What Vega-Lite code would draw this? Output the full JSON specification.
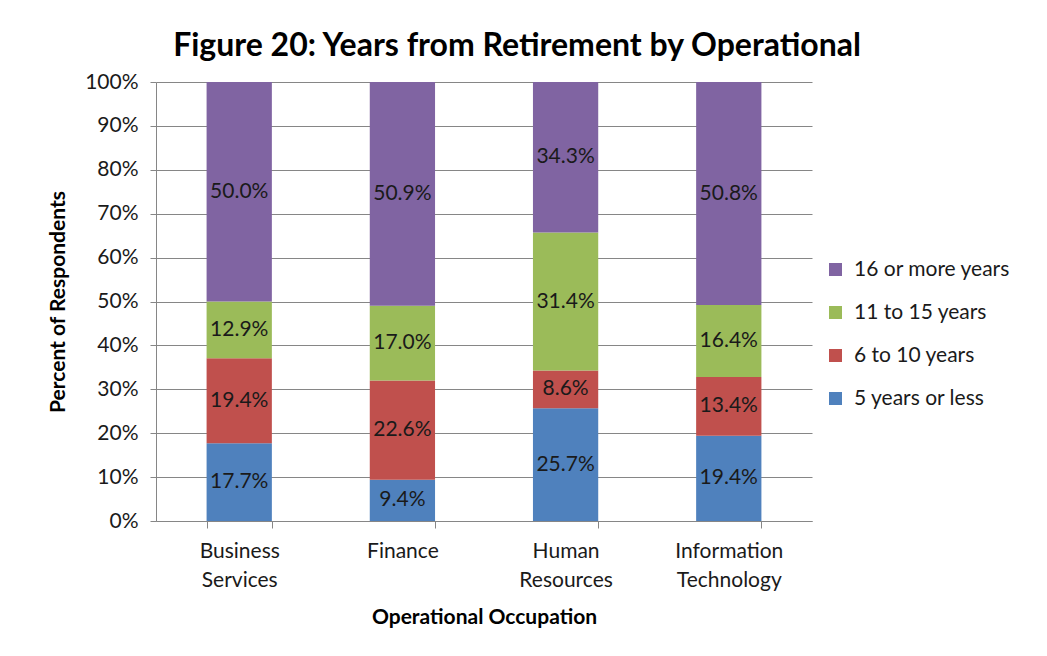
{
  "$schema": "https://vega.github.io/schema/vega-lite/v6.json",
  "autosize": {"type": "none"},
  "padding": {"left": 156, "top": 82, "right": 235, "bottom": 135},
  "width": 656,
  "height": 439,
  "background": "white",
  "title": {
    "text": "Figure 20: Years from Retirement by Operational",
    "font": "Lato",
    "fontSize": 32,
    "fontWeight": "bold",
    "color": "#000000",
    "anchor": "middle",
    "frame": "group",
    "dx": 33,
    "offset": 8
  },
  "data": {
    "values": [
      {"occ": "Business Services", "cat": "5 years or less", "rank": 1, "p": 0.177},
      {"occ": "Business Services", "cat": "6 to 10 years", "rank": 2, "p": 0.194},
      {"occ": "Business Services", "cat": "11 to 15 years", "rank": 3, "p": 0.129},
      {"occ": "Business Services", "cat": "16 or more years", "rank": 4, "p": 0.500},
      {"occ": "Finance", "cat": "5 years or less", "rank": 1, "p": 0.094},
      {"occ": "Finance", "cat": "6 to 10 years", "rank": 2, "p": 0.226},
      {"occ": "Finance", "cat": "11 to 15 years", "rank": 3, "p": 0.170},
      {"occ": "Finance", "cat": "16 or more years", "rank": 4, "p": 0.509},
      {"occ": "Human Resources", "cat": "5 years or less", "rank": 1, "p": 0.257},
      {"occ": "Human Resources", "cat": "6 to 10 years", "rank": 2, "p": 0.086},
      {"occ": "Human Resources", "cat": "11 to 15 years", "rank": 3, "p": 0.314},
      {"occ": "Human Resources", "cat": "16 or more years", "rank": 4, "p": 0.343},
      {"occ": "Information Technology", "cat": "5 years or less", "rank": 1, "p": 0.194},
      {"occ": "Information Technology", "cat": "6 to 10 years", "rank": 2, "p": 0.134},
      {"occ": "Information Technology", "cat": "11 to 15 years", "rank": 3, "p": 0.164},
      {"occ": "Information Technology", "cat": "16 or more years", "rank": 4, "p": 0.508}
    ]
  },
  "encoding": {
    "x": {
      "field": "occ",
      "type": "nominal",
      "sort": null,
      "scale": {"paddingInner": 0.6, "paddingOuter": 0.31},
      "axis": {
        "title": "Operational Occupation",
        "titleFont": "Lato",
        "titleFontSize": 21,
        "titleFontWeight": "bold",
        "titleColor": "#000000",
        "titlePadding": 16,
        "labelAngle": 0,
        "labelExpr": "split(datum.label, ' ')",
        "labelFont": "Lato",
        "labelFontSize": 21,
        "labelColor": "#1a1a1a",
        "labelLineHeight": 29,
        "labelPadding": 12,
        "tickBand": "extent",
        "tickSize": 7,
        "tickColor": "#868686",
        "domainColor": "#868686",
        "grid": false
      }
    },
    "y": {
      "field": "p",
      "type": "quantitative",
      "stack": "normalize",
      "scale": {"domain": [0, 1]},
      "axis": {
        "title": "Percent of Respondents",
        "titleFont": "Lato",
        "titleFontSize": 21,
        "titleFontWeight": "bold",
        "titleColor": "#000000",
        "titlePadding": 16,
        "format": ".0%",
        "values": [0, 0.1, 0.2, 0.3, 0.4, 0.5, 0.6, 0.7, 0.8, 0.9, 1],
        "labelFont": "Lato",
        "labelFontSize": 21,
        "labelColor": "#1a1a1a",
        "labelPadding": 12,
        "tickSize": 6,
        "tickColor": "#868686",
        "domainColor": "#868686",
        "gridColor": "#868686",
        "gridOpacity": 1
      }
    },
    "order": {"field": "rank", "type": "quantitative"}
  },
  "layer": [
    {
      "mark": {"type": "bar"},
      "encoding": {
        "color": {
          "field": "cat",
          "type": "nominal",
          "scale": {
            "domain": ["16 or more years", "11 to 15 years", "6 to 10 years", "5 years or less"],
            "range": ["#8064A2", "#9BBB59", "#C0504D", "#4F81BD"]
          },
          "legend": {
            "title": null,
            "orient": "none",
            "legendX": 669,
            "legendY": 177,
            "symbolType": "square",
            "symbolSize": 170,
            "symbolStrokeWidth": 0,
            "labelFont": "Lato",
            "labelFontSize": 21,
            "labelColor": "#1a1a1a",
            "rowPadding": 21,
            "labelOffset": 8
          }
        }
      }
    },
    {
      "mark": {"type": "text", "font": "Lato", "fontSize": 21, "color": "#1a1a1a", "baseline": "middle"},
      "encoding": {
        "y": {"field": "p", "type": "quantitative", "stack": "normalize", "bandPosition": 0.5},
        "detail": {"field": "cat", "type": "nominal"},
        "text": {"field": "p", "type": "quantitative", "format": ".1%"}
      }
    }
  ],
  "config": {
    "view": {"stroke": null}
  }
}
